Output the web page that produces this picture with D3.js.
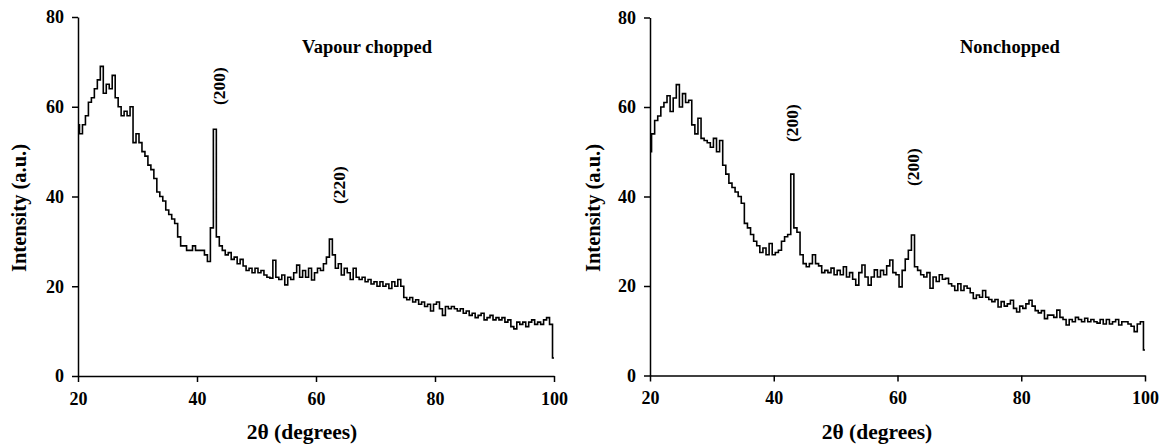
<!DOCTYPE html>
<html>
<head>
<meta charset="utf-8">
<script src="https://cdn.jsdelivr.net/npm/d3@7"></script>
<style>
  html, body { margin: 0; padding: 0; background: #fff; }
  svg { display: block; }
  text { font-family: "Liberation Serif", "Times New Roman", serif; font-weight: bold; fill: #000; }
</style>
</head>
<body>
<svg id="chart" width="1160" height="447"></svg>
<script>
// ---- data (2θ from 20 to 100 in steps of 0.5) ----
const angleStart = 20, angleEnd = 100, angleStep = 0.5;
const xTicks = [20, 40, 60, 80, 100];
const yTicks = [0, 20, 40, 60, 80];
const panelTitles = ["Vapour chopped", "Nonchopped"];
const xAxisTitle = "2θ (degrees)";
const yAxisTitle = "Intensity (a.u.)";

const vapourChopped = [
  56, 54, 56, 58, 61, 62, 64, 66, 69, 63,
  65, 64, 67, 62, 60, 58, 59, 58, 60, 52,
  54, 52, 50, 49, 47, 46, 44, 41, 40, 39,
  37, 36, 35, 34, 31, 29, 29, 28, 28, 29,
  28, 28, 28, 27, 25.5, 33, 55, 31, 29, 28,
  27, 27.5, 26, 26.5, 25, 26, 24.5, 23.5, 24, 23,
  24, 23, 23.5, 22.5, 22, 21.8, 25.8, 22, 21.5, 22.5,
  20.3, 22, 21.5, 23, 24.7, 22, 23.5, 22, 24, 21.4,
  23, 24, 23.5, 25, 26.5, 30.5, 27, 24, 25, 22.5,
  24, 23, 21.5, 24, 22, 21.5, 22, 21, 21.5, 20.5,
  21, 20, 21, 20, 20.5, 19.5, 21, 20, 21.5, 20,
  17.5, 17, 17.5, 16.5, 17, 16, 16.5, 15.5, 16, 14.5,
  16, 16.5, 15, 13.5, 15.5, 15, 15.5, 15, 14.5, 15,
  14, 14.5, 13.5, 14, 13, 13.5, 14, 12.5, 13, 13.5,
  12.5, 13, 12.5, 13, 12, 12.5, 11, 10.5, 12, 11.5,
  12, 11, 12, 12.5, 11.5, 12, 11.5, 12.5, 13, 11.5,
  4
];

const nonChopped = [
  50, 54, 57, 58, 60, 61, 62.5, 59, 62, 65,
  60, 63, 61, 61.5, 56, 54, 57.5, 53, 52.5, 52,
  51, 53, 50, 52.5, 47, 45, 43, 42, 41, 40,
  38.5, 34, 33, 31.5, 30, 29, 27.5, 28.5, 27, 29.5,
  27, 27.5, 28, 30, 31, 31.5, 45, 33, 32, 27,
  25, 24.3, 25, 27, 25, 24.5, 23, 23.5, 23, 24,
  22.5, 23.5, 22.5, 24.3, 22, 23, 21.5, 20.2, 23, 24.7,
  22, 20.2, 22, 23.6, 22, 23.5, 22.5, 24.5, 25.8, 23,
  22.5, 19.8, 23.5, 26, 28, 31.4, 24.3, 23.5, 22.5, 22,
  23, 19.5, 22, 21, 22.5, 21.5, 21.7, 20.5, 20, 19,
  20.5, 19, 20, 19.5, 18.5, 17.2, 18, 17.5, 19, 17.5,
  17, 16.5, 17, 15.3, 16.5, 15.5, 16, 16.8, 15, 14.2,
  15.5, 15, 16, 16.8, 15.5, 14.5, 14, 14.5, 12.7, 13.5,
  13.5, 13, 14.6, 13, 12.5, 11.3, 12.5, 12, 13, 12.5,
  12, 12.8, 12, 12.5, 12, 11.7, 12.5, 11.5, 12.5, 11.5,
  12, 12.5, 11.3, 12, 12, 11.5, 11, 9.8, 11.5, 12,
  5.7
];

const peakLabels = [
  ["(200)", "(220)"],
  ["(200)", "(200)"]
];

// ---- layout ----
const panels = [
  { series: vapourChopped, x0: 78, x1: 554, yTop: 17, yBot: 376,
    title: panelTitles[0], titleX: 302, xTitleX: 302, yTitleX: 26, peakDx: [225, 345], peakDy: [86, 185] },
  { series: nonChopped, x0: 650, x1: 1145, yTop: 17.5, yBot: 375.5,
    title: panelTitles[1], titleX: 960, xTitleX: 877, yTitleX: 600, peakDx: [798, 919], peakDy: [123, 167] }
];

const svg = d3.select("#chart");
const angles = d3.range(vapourChopped.length).map(i => angleStart + i * angleStep);

panels.forEach((p, pi) => {
  const x = d3.scaleLinear().domain([angleStart, angleEnd]).range([p.x0, p.x1]);
  const y = d3.scaleLinear().domain([0, 80]).range([p.yBot, p.yTop]);
  const g = svg.append("g");

  const xAxis = g.append("g")
    .attr("transform", `translate(0,${p.yBot})`)
    .call(d3.axisBottom(x).tickValues(xTicks).tickSize(6).tickSizeOuter(0).tickPadding(10));
  const yAxis = g.append("g")
    .attr("transform", `translate(${p.x0},0)`)
    .call(d3.axisLeft(y).tickValues(yTicks).tickSize(6).tickSizeOuter(0).tickPadding(8));
  [xAxis, yAxis].forEach(a => {
    a.attr("font-family", null);
    a.selectAll("path, line").attr("stroke", "#000").attr("stroke-width", 1.5);
    a.selectAll("text").style("font-size", "18px").style("font-family", "'Liberation Serif', serif")
      .style("font-weight", "bold").attr("fill", "#000");
  });

  const data = p.series.map((v, i) => [angles[i], v]);
  g.append("path")
    .datum(data)
    .attr("fill", "none")
    .attr("stroke", "#000")
    .attr("stroke-width", 1.6)
    .attr("stroke-linejoin", "miter")
    .attr("d", d3.line().x(d => x(d[0])).y(d => y(d[1])).curve(d3.curveStep));

  // panel title
  g.append("text").attr("x", p.titleX).attr("y", 53)
    .style("font-size", "18.5px").text(p.title);

  // axis titles
  g.append("text")
    .attr("x", p.xTitleX).attr("y", 439)
    .attr("text-anchor", "middle").style("font-size", "21.5px").text(xAxisTitle);
  g.append("text")
    .attr("transform", `translate(${p.yTitleX},208) rotate(-90)`)
    .attr("text-anchor", "middle").style("font-size", "20.5px").text(yAxisTitle);

  // peak labels
  peakLabels[pi].forEach((txt, k) => {
    g.append("text")
      .attr("transform", `translate(${p.peakDx[k]},${p.peakDy[k]}) rotate(-90)`)
      .attr("text-anchor", "middle").style("font-size", "17.5px").text(txt);
  });
});
</script>
</body>
</html>
